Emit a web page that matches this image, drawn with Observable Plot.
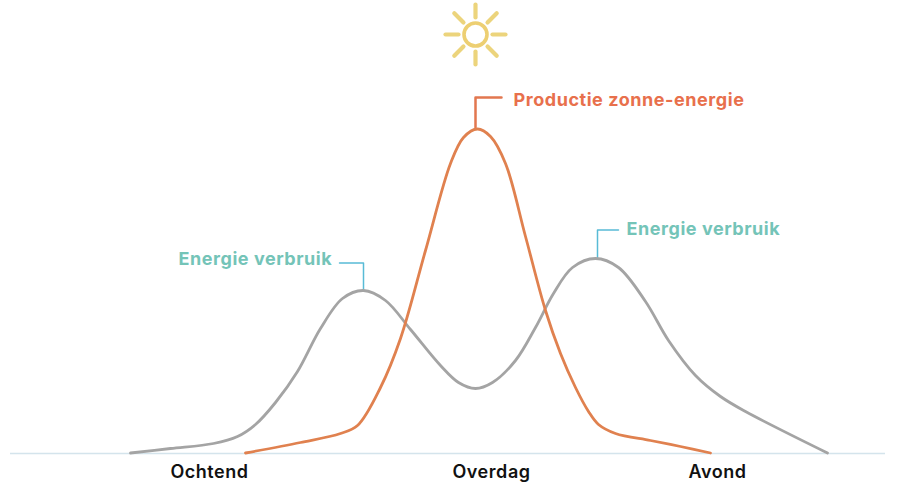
<!DOCTYPE html>
<html><head><meta charset="utf-8">
<script src="https://cdn.jsdelivr.net/npm/d3@7"></script>
<script src="https://cdn.jsdelivr.net/npm/@observablehq/plot@0.6"></script>
<style>html,body{margin:0;padding:0;background:#fff}svg{display:block}</style>
</head><body><div id="chart"></div>
<script>
const verbruikX = [130,170,213,237,255,275,297,320,342,363,385,410,440,458,475,492,515,535,553,572,595,618,645,668,695,720,745,827];
const verbruikY = [0.5,5,10,17,29,51,82,125,155,163,153,124,88,71,65,71,93,126,160,186,195,186,152,113,78,57,42,0.5];
const productieX = [245,300,340,357,380,400,425,450,463,477,490,505,525,545,560,575,588,598,615,650,680,710];
const productieY = [0.5,11,20,28,66,115,203,290,316,324.5,317,290,217,143,100,66,42,29,20,13,7,0.5];
const periodes = ["Ochtend","Overdag","Avond"];
const periodeX = [209,491,717];
const straalHoek = [0,45,90,135,180,225,270,315];
const sun = {x:475, y:419, binnen:17, buiten:30};
const rays = straalHoek.map(a => ({
  x1: sun.x + sun.binnen*Math.cos(a*Math.PI/180), y1: sun.y + sun.binnen*Math.sin(a*Math.PI/180),
  x2: sun.x + sun.buiten*Math.cos(a*Math.PI/180), y2: sun.y + sun.buiten*Math.sin(a*Math.PI/180)}));
const verbruik = verbruikX.map((x,i)=>({x,y:verbruikY[i]}));
const productie = productieX.map((x,i)=>({x,y:productieY[i]}));
const font = "Inter, 'Open Sans', sans-serif";
const lead = (pts, stroke, w) => Plot.line(pts, {x:"x",y:"y",stroke,strokeWidth:w,curve:"linear"});
const plot = Plot.plot({
  width:921,height:500,margin:0,
  x:{domain:[0,921],range:[0,921],axis:null},
  y:{domain:[0,453],range:[453,0],axis:null},
  style:{background:"#fff",fontFamily:font,letterSpacing:"0.55px"},
  marks:[
    Plot.ruleY([0],{x1:10,x2:885,stroke:"#d4e4ec",strokeWidth:1.5}),
    lead([{x:339,y:190.5},{x:363,y:190.5},{x:363,y:163}],"#58bbd6",1.5),
    lead([{x:618,y:223.5},{x:597,y:223.5},{x:597,y:195}],"#58bbd6",1.5),
    lead([{x:501,y:356},{x:475,y:356},{x:475,y:326}],"#e2774f",2.5),
    Plot.line(verbruik,{x:"x",y:"y",stroke:"#a4a4a4",strokeWidth:2.8,curve:"catmull-rom"}),
    Plot.line(productie,{x:"x",y:"y",stroke:"#e0814f",strokeWidth:2.8,curve:"catmull-rom"}),
    Plot.link(rays,{x1:"x1",y1:"y1",x2:"x2",y2:"y2",stroke:"#ecd47c",strokeWidth:4.2,strokeLinecap:"round"}),
    Plot.dot([sun],{x:"x",y:"y",r:11.5,stroke:"#edcf72",strokeWidth:3.6,fill:"none"}),
    Plot.text(["Productie zonne-energie"],{x:513,y:353,text:d=>d,textAnchor:"start",fill:"#e8704c",fontSize:18,fontWeight:700}),
    Plot.text(["Energie verbruik"],{x:178,y:194,text:d=>d,textAnchor:"start",fill:"#74c4b8",fontSize:18,fontWeight:700}),
    Plot.text(["Energie verbruik"],{x:626,y:224,text:d=>d,textAnchor:"start",fill:"#74c4b8",fontSize:18,fontWeight:700}),
    Plot.text(periodes,{x:(d,i)=>periodeX[i],y:-19,text:d=>d,textAnchor:"middle",fill:"#111",fontSize:18,fontWeight:600})
  ]
});
document.getElementById("chart").append(plot);
</script></body></html>
